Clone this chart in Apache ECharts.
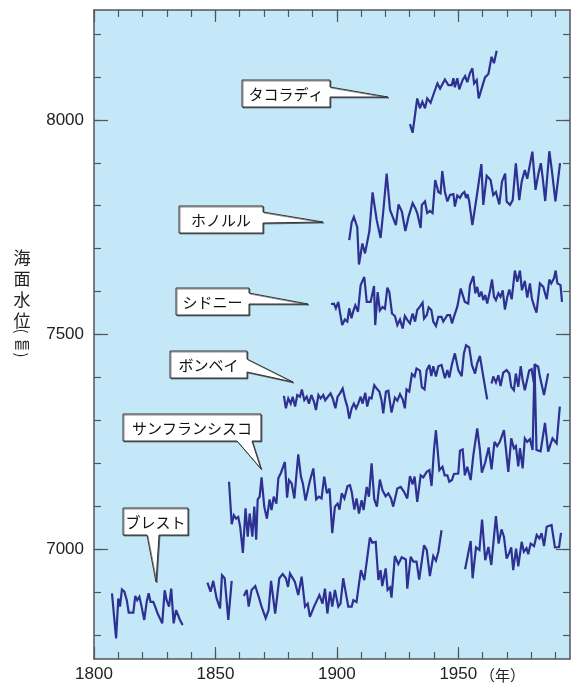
<!DOCTYPE html>
<html>
<head>
<meta charset="utf-8">
<script src="https://cdn.jsdelivr.net/npm/echarts@6/dist/echarts.min.js"></script>
<style>
  html, body { margin: 0; padding: 0; background: #fff; }
  #chart { width: 573px; height: 683px; }
</style>
</head>
<body>
<div id="chart"></div>
<script>
// tick positions
const xMinorTicks = [1810, 1820, 1830, 1840, 1850, 1860, 1870, 1880, 1890, 1900, 1910, 1920, 1930, 1940, 1950, 1960, 1970, 1980, 1990];
const xMajorTicks = [1800, 1850, 1900, 1950];
const yMinorTicks = [6800, 6900, 7000, 7100, 7200, 7300, 7400, 7500, 7600, 7700, 7800, 7900, 8000, 8100, 8200];
const yMajorTicks = [7000, 7500, 8000];

// [year, mm]; null = gap in the record
const takoradi = [[1930.1,7990],[1931.2,7970],[1933.1,8050],[1934.2,8027],[1935.2,8042],[1936.3,8027],[1937.2,8050],[1938.6,8040],[1939.7,8058],[1941.4,8085],[1942.5,8073],[1944.5,8094],[1945.9,8081],[1947.3,8081],[1948.0,8097],[1948.6,8076],[1949.6,8097],[1950.4,8071],[1951.8,8093],[1952.8,8102],[1953.7,8088],[1954.8,8109],[1955.8,8120],[1956.5,8085],[1957.6,8093],[1958.4,8050],[1961.0,8099],[1962.4,8107],[1963.7,8147],[1964.7,8132],[1965.8,8161]];

const honolulu = [[1905.1,7720],[1906.1,7761],[1907.0,7774],[1908.4,7750],[1909.1,7663],[1910.5,7712],[1911.6,7689],[1913.4,7741],[1914.7,7831],[1916.4,7767],[1918.0,7725],[1919.1,7786],[1920.5,7875],[1921.9,7790],[1923.0,7774],[1924.3,7755],[1925.4,7803],[1926.8,7786],[1928.2,7741],[1929.5,7774],[1931.2,7806],[1932.3,7794],[1933.1,7783],[1934.5,7748],[1935.0,7802],[1936.3,7810],[1937.2,7783],[1938.3,7788],[1939.4,7783],[1940.5,7860],[1941.8,7832],[1942.7,7829],[1943.4,7881],[1944.5,7832],[1945.5,7810],[1946.6,7825],[1948.0,7827],[1948.6,7798],[1949.6,7824],[1950.7,7818],[1951.5,7827],[1952.5,7832],[1953.2,7818],[1953.8,7827],[1954.5,7810],[1955.8,7755],[1957.5,7818],[1959.5,7897],[1960.3,7802],[1961.7,7870],[1963.3,7860],[1964.4,7825],[1965.5,7832],[1966.9,7803],[1968.0,7856],[1969.3,7875],[1969.9,7810],[1971.3,7802],[1972.4,7813],[1973.7,7899],[1975.1,7813],[1976.1,7856],[1977.4,7883],[1978.4,7863],[1979.2,7860],[1980.5,7926],[1981.8,7837],[1983.0,7875],[1984.0,7899],[1984.7,7868],[1985.8,7811],[1987.5,7927],[1988.6,7879],[1990.0,7810],[1991.9,7899]];

const sydney = [[1897.6,7571],[1898.8,7572],[1899.6,7561],[1900.6,7576],[1901.3,7551],[1902.2,7522],[1903.3,7535],[1904.3,7530],[1905.1,7561],[1906.0,7538],[1906.8,7555],[1907.6,7568],[1908.7,7553],[1909.8,7615],[1911.3,7634],[1912.3,7576],[1913.1,7580],[1913.9,7576],[1915.3,7613],[1915.8,7522],[1916.8,7599],[1917.7,7556],[1918.8,7564],[1919.8,7560],[1920.8,7609],[1921.6,7599],[1922.7,7549],[1923.9,7543],[1924.9,7522],[1926.0,7535],[1927.1,7514],[1928.0,7543],[1929.0,7534],[1930.1,7526],[1931.2,7549],[1932.2,7530],[1933.1,7557],[1934.2,7565],[1935.3,7574],[1935.9,7537],[1937.0,7545],[1937.8,7563],[1938.9,7557],[1939.7,7530],[1940.8,7520],[1941.8,7541],[1943.1,7541],[1943.8,7530],[1944.6,7526],[1945.5,7545],[1946.6,7545],[1947.4,7526],[1948.2,7541],[1949.6,7565],[1951.0,7607],[1952.7,7576],[1954.1,7572],[1954.8,7615],[1956.2,7636],[1957.0,7596],[1957.8,7611],[1958.6,7588],[1959.5,7600],[1960.3,7580],[1961.1,7592],[1961.9,7572],[1963.0,7600],[1963.9,7628],[1964.7,7588],[1965.5,7580],[1966.5,7596],[1967.4,7588],[1968.3,7603],[1969.2,7558],[1970.2,7588],[1971.0,7605],[1972.0,7582],[1973.3,7649],[1974.3,7623],[1975.4,7649],[1976.2,7603],[1977.4,7625],[1978.4,7586],[1979.5,7619],[1980.3,7584],[1981.3,7565],[1982.2,7551],[1983.6,7619],[1985.0,7611],[1986.4,7582],[1987.5,7628],[1988.3,7619],[1989.4,7631],[1990.1,7649],[1990.8,7619],[1992.1,7615],[1992.7,7576]];

const bombay = [[1878.2,7357],[1879.0,7328],[1880.0,7351],[1881.0,7339],[1881.8,7355],[1882.8,7332],[1883.7,7359],[1884.8,7355],[1885.6,7372],[1886.6,7347],[1887.6,7355],[1888.5,7339],[1889.5,7359],[1890.6,7343],[1891.4,7324],[1892.4,7359],[1893.3,7351],[1894.4,7359],[1895.2,7347],[1896.3,7355],[1897.4,7363],[1898.3,7351],[1899.4,7328],[1900.3,7355],[1901.3,7363],[1902.4,7374],[1903.5,7347],[1904.3,7332],[1905.1,7304],[1906.1,7328],[1907.0,7339],[1907.9,7328],[1908.8,7339],[1909.8,7355],[1910.6,7339],[1911.7,7364],[1912.5,7332],[1913.4,7353],[1914.3,7351],[1915.4,7382],[1916.4,7374],[1917.5,7367],[1918.4,7347],[1919.1,7316],[1920.2,7367],[1921.2,7369],[1922.5,7318],[1923.9,7353],[1924.9,7346],[1926.0,7361],[1927.1,7349],[1928.0,7328],[1928.7,7372],[1929.8,7367],[1930.9,7408],[1932.0,7402],[1932.8,7421],[1934.2,7416],[1935.0,7377],[1936.1,7372],[1937.0,7417],[1938.1,7429],[1938.9,7403],[1939.7,7426],[1940.8,7402],[1941.8,7426],[1943.1,7429],[1944.5,7398],[1945.5,7417],[1946.3,7400],[1947.4,7431],[1948.6,7456],[1950.0,7417],[1951.4,7403],[1952.3,7456],[1953.2,7475],[1954.5,7470],[1955.6,7429],[1956.9,7409],[1957.8,7433],[1958.9,7450],[1960.3,7402],[1961.9,7349],
  null,
  [1963.7,7386],[1964.4,7402],[1965.5,7388],[1966.5,7405],[1967.4,7380],[1968.5,7411],[1969.9,7417],[1971.0,7409],[1971.8,7378],[1972.9,7370],[1973.7,7409],[1974.7,7378],[1975.7,7426],[1976.5,7394],[1977.4,7370],[1979.2,7416],[1980.2,7419],[1981.1,7388],[1981.8,7429],[1982.9,7425],[1983.6,7402],[1985.3,7359],[1987.0,7409]];

const sanFrancisco = [[1855.6,7157],[1856.7,7058],[1857.6,7079],[1858.5,7071],[1859.4,7075],[1860.2,7052],[1861.3,6991],[1862.4,7095],[1863.3,7029],[1864.1,7083],[1865.2,7029],[1866.0,7099],[1866.8,7022],[1867.4,7116],[1868.2,7122],[1869.0,7167],[1870.1,7099],[1871.2,7071],[1872.3,7116],[1873.1,7091],[1874.0,7122],[1875.1,7106],[1875.9,7165],[1877.0,7178],[1878.6,7203],[1879.5,7120],[1880.3,7161],[1881.4,7153],[1882.5,7118],[1884.1,7221],[1885.2,7169],[1886.0,7153],[1887.1,7113],[1888.8,7157],[1890.3,7188],[1891.5,7116],[1892.6,7122],[1893.7,7118],[1894.8,7169],[1895.9,7130],[1897.0,7141],[1898.1,7037],[1899.2,7099],[1900.3,7106],[1901.1,7092],[1902.0,7130],[1903.1,7118],[1904.4,7147],[1905.4,7149],[1906.1,7134],[1907.2,7092],[1908.1,7118],[1909.1,7083],[1910.2,7114],[1911.0,7091],[1912.3,7145],[1913.2,7122],[1914.3,7200],[1915.4,7116],[1916.5,7099],[1917.7,7162],[1918.8,7137],[1920.1,7123],[1921.2,7130],[1922.3,7118],[1923.2,7099],[1924.9,7141],[1926.3,7145],[1927.6,7134],[1929.0,7118],[1930.1,7170],[1931.2,7151],[1932.0,7169],[1933.1,7110],[1934.5,7172],[1935.6,7167],[1937.0,7180],[1938.1,7184],[1939.0,7147],[1940.0,7231],[1940.8,7277],[1942.2,7184],[1943.5,7192],[1944.4,7172],[1945.5,7172],[1946.3,7157],[1947.4,7161],[1948.2,7175],[1950.0,7176],[1950.7,7229],[1951.8,7232],[1952.7,7172],[1953.7,7192],[1955.1,7161],[1956.2,7219],[1957.8,7281],[1958.9,7231],[1959.7,7178],[1961.0,7200],[1962.5,7237],[1963.7,7186],[1964.9,7250],[1966.0,7240],[1967.1,7250],[1968.8,7277],[1970.6,7180],[1971.8,7258],[1972.9,7235],[1973.7,7240],[1974.7,7193],[1975.4,7235],[1976.5,7188],[1977.4,7258],[1978.4,7250],[1979.5,7256],[1980.6,7231],[1981.4,7431],[1982.2,7231],[1983.9,7228],[1985.7,7294],[1987.0,7227],[1988.8,7258],[1990.5,7246],[1991.8,7332]];

const brest = [[1807.4,6897],[1809.1,6792],[1810.0,6885],[1810.7,6866],[1811.5,6906],[1812.5,6901],[1813.5,6881],[1814.3,6852],[1816.2,6852],[1817.0,6891],[1817.8,6881],[1818.7,6889],[1819.6,6866],[1820.7,6835],[1821.7,6877],[1822.5,6897],[1823.3,6877],[1824.4,6877],[1825.2,6866],[1826.2,6850],[1828.1,6827],[1829.1,6904],[1829.9,6881],[1830.9,6866],[1831.8,6908],[1832.8,6827],[1833.8,6858],[1835.4,6835],[1836.5,6823],
  null,
  [1846.7,6922],[1848.0,6901],[1849.1,6926],[1850.5,6885],[1851.9,6862],[1852.7,6939],[1853.8,6932],[1855.3,6835],[1856.7,6926],
  null,
  [1861.7,6891],[1862.9,6905],[1863.7,6866],[1864.9,6905],[1866.4,6914],[1867.6,6893],[1869.0,6866],[1870.7,6839],[1871.9,6858],[1872.9,6926],[1874.6,6850],[1876.3,6932],[1877.7,6942],[1879.0,6932],[1879.9,6912],[1880.7,6943],[1882.7,6924],[1884.1,6893],[1885.5,6936],[1886.9,6866],[1888.0,6873],[1888.9,6842],[1890.6,6866],[1892.8,6893],[1894.1,6873],[1895.1,6908],[1896.1,6850],[1897.2,6901],[1898.1,6866],[1899.2,6905],[1900.6,6866],[1901.5,6873],[1902.6,6932],[1904.7,6866],[1906.1,6866],[1906.8,6881],[1908.1,6877],[1909.9,6951],[1911.3,6928],[1913.6,7027],[1914.6,7015],[1916.0,7017],[1917.1,6928],[1918.0,6951],[1918.7,6914],[1920.1,6955],[1920.9,6905],[1921.9,6911],[1922.5,6887],[1923.9,6984],[1925.3,6965],[1926.7,6981],[1928.4,6976],[1929.0,6908],[1930.4,6982],[1931.5,6971],[1932.8,6971],[1933.9,6929],[1935.9,7009],[1937.0,6998],[1938.3,6937],[1939.7,6984],[1940.8,6973],[1941.8,6994],[1943.1,7044],
  null,
  [1952.8,6953],[1955.1,7019],[1955.9,6932],[1957.3,7004],[1958.7,6998],[1959.8,7069],[1961.1,6974],[1962.4,7005],[1963.6,6963],[1965.5,7077],[1966.6,7013],[1967.8,7046],[1968.8,7029],[1969.9,6978],[1970.9,6990],[1971.8,7004],[1972.6,6951],[1973.8,7001],[1974.7,6960],[1976.1,7017],[1977.0,6994],[1978.1,7002],[1978.8,6988],[1979.8,7013],[1981.2,7007],[1982.3,7033],[1983.4,7025],[1984.3,7037],[1985.3,7007],[1986.4,7052],[1988.4,7056],[1989.8,7004],[1991.5,7005],[1992.3,7038]];

const stations = [
  { name: 'タコラディ', data: takoradi },
  { name: 'ホノルル', data: honolulu },
  { name: 'シドニー', data: sydney },
  { name: 'ボンベイ', data: bombay },
  { name: 'サンフランシスコ', data: sanFrancisco },
  { name: 'ブレスト', data: brest }
];

const X_MIN = 1800, X_MAX = 1996;
const Y_MIN = 6744, Y_MAX = 8256;
const AXIS_COLOR = '#555';
const LINE_COLOR = '#2e3192';
const FONT_NUM = '"Liberation Sans", Arial, sans-serif';
const FONT_JP = '"Noto Sans CJK JP", "Noto Sans", sans-serif';

// one axis per tick set; major and minor ticks have different lengths
function tickAxis(position, min, max, ticks, len, extra) {
  return Object.assign({
    type: 'value',
    position,
    min,
    max,
    axisLine: { show: false },
    splitLine: { show: false },
    axisTick: {
      show: true,
      inside: true,
      length: len,
      customValues: ticks,
      lineStyle: { color: AXIS_COLOR, width: 1.2 }
    },
    axisLabel: { show: false }
  }, extra);
}

const frameLine = { show: true, lineStyle: { color: AXIS_COLOR, width: 1.5 } };
const plainNumber = v => String(v);

const xAxes = [
  tickAxis('bottom', X_MIN, X_MAX, xMinorTicks, 7, {
    axisLine: frameLine,
    axisLabel: { show: true, customValues: xMajorTicks, formatter: plainNumber, margin: 7, fontSize: 17, color: '#222', fontFamily: FONT_NUM }
  }),
  tickAxis('bottom', X_MIN, X_MAX, xMajorTicks, 12),
  tickAxis('top', X_MIN, X_MAX, xMinorTicks, 7, { axisLine: frameLine }),
  tickAxis('top', X_MIN, X_MAX, xMajorTicks, 12)
];

const yAxes = [
  tickAxis('left', Y_MIN, Y_MAX, yMinorTicks, 7, {
    axisLine: frameLine,
    axisLabel: { show: true, customValues: yMajorTicks, formatter: plainNumber, margin: 10, fontSize: 17, color: '#222', fontFamily: FONT_NUM }
  }),
  tickAxis('left', Y_MIN, Y_MAX, yMajorTicks, 14),
  tickAxis('right', Y_MIN, Y_MAX, yMinorTicks, 7, { axisLine: frameLine }),
  tickAxis('right', Y_MIN, Y_MAX, yMajorTicks, 14)
];

// label box with a pointer; side tells which edge the pointer leaves from
function callout(label, box, base, tip, side) {
  const [x0, y0, x1, y1] = box;
  const pts = side === 'right'
    ? [[x0, y0], [x1, y0], [x1, base[0]], tip, [x1, base[1]], [x1, y1], [x0, y1]]
    : [[x0, y0], [x1, y0], [x1, y1], [base[1], y1], tip, [base[0], y1], [x0, y1]];
  return [
    {
      type: 'polygon', z: 10,
      shape: { points: pts },
      style: { fill: '#fff', stroke: '#333', lineWidth: 1, shadowColor: 'rgba(0,0,0,0.45)', shadowOffsetX: 1, shadowOffsetY: 1 }
    },
    {
      type: 'text', z: 11, x: (x0 + x1) / 2, y: (y0 + y1) / 2 + 1,
      style: { text: label, fontSize: 15, fontFamily: FONT_JP, fill: '#111', align: 'center', verticalAlign: 'middle' }
    }
  ];
}

const callouts = [
  ...callout('タコラディ', [242, 80, 330, 107], [87, 97], [388, 97], 'right'),
  ...callout('ホノルル', [179, 206, 263, 233], [212, 223], [323, 222], 'right'),
  ...callout('シドニー', [176, 288, 249, 315], [293, 304], [308, 304], 'right'),
  ...callout('ボンベイ', [170, 351, 247, 378], [359, 372], [293, 382], 'right'),
  ...callout('サンフランシスコ', [123, 414, 261, 441], [237, 252], [261, 469], 'bottom'),
  ...callout('ブレスト', [123, 508, 188, 535], [147, 159], [156, 582], 'bottom')
];

const textStyle = (text, size) => ({ text, fontSize: size, fontFamily: FONT_JP, fill: '#222', align: 'center', verticalAlign: 'middle' });

// vertical axis title; the brackets are turned to sit in the column
const titleTexts = [
  { type: 'text', x: 22, y: 247, style: { text: '海\n面\n水\n位', fontSize: 17, lineHeight: 21, fontFamily: FONT_JP, fill: '#222', align: 'center', verticalAlign: 'top' } },
  { type: 'text', x: 22, y: 331, rotation: -Math.PI / 2, style: textStyle('(', 15) },
  { type: 'text', x: 22, y: 343, style: textStyle('㎜', 15) },
  { type: 'text', x: 22, y: 355, rotation: -Math.PI / 2, style: textStyle(')', 15) },
  { type: 'text', x: 480, y: 675, style: { text: '（年）', fontSize: 15, fontFamily: FONT_JP, fill: '#222', align: 'left', verticalAlign: 'middle' } }
];

const chart = echarts.init(document.getElementById('chart'));

chart.setOption({
  animation: false,
  backgroundColor: '#fff',
  grid: {
    left: 94,
    right: 3,
    top: 10,
    bottom: 24,
    show: true,
    backgroundColor: '#c5e8f8',
    borderWidth: 0,
    containLabel: false,
    outerBoundsMode: 'none'
  },
  xAxis: xAxes,
  yAxis: yAxes,
  series: stations.map(s => ({
    name: s.name,
    type: 'line',
    xAxisIndex: 0,
    yAxisIndex: 0,
    data: s.data.map(p => p || ['-', '-']),
    symbol: 'none',
    showSymbol: false,
    silent: true,
    lineStyle: { color: LINE_COLOR, width: 2.2, join: 'miter', miterLimit: 3 }
  })),
  graphic: [...callouts, ...titleTexts]
});
</script>
</body>
</html>
